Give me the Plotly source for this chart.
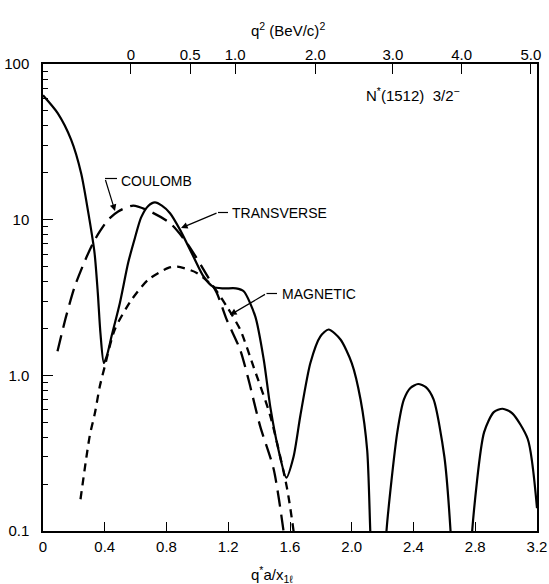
import plotly.graph_objects as go

# ---- data ----
# Transverse (solid) -- three lobes separated by zeros
trans_x1 = [0.0, 0.095, 0.182, 0.247, 0.301, 0.334, 0.355, 0.372, 0.394, 0.415, 0.444, 0.498,
            0.552, 0.595, 0.635, 0.68, 0.725, 0.77, 0.823, 0.888, 0.974, 1.039, 1.103, 1.169,
            1.25, 1.30, 1.375, 1.43, 1.472, 1.526, 1.576, 1.623, 1.667, 1.732, 1.797,
            1.85, 1.927, 2.0, 2.057, 2.1, 2.12, 2.13]
trans_y1 = [63, 48.4, 32.7, 19.9, 10.0, 6.1, 3.39, 1.87, 1.2, 1.35, 1.78, 2.92,
            5.3, 7.6, 10.3, 12.2, 12.9, 12.3, 11.0, 8.6, 5.8, 4.33, 3.7, 3.62,
            3.62, 3.47, 2.39, 1.26, 0.63, 0.33, 0.22, 0.30, 0.55, 1.2, 1.78,
            1.97, 1.7, 1.2, 0.7, 0.33, 0.1, 0.06]
trans_x2 = [2.212, 2.225, 2.295, 2.338, 2.38, 2.43, 2.48, 2.53, 2.6, 2.64, 2.65]
trans_y2 = [0.05, 0.1, 0.43, 0.7, 0.83, 0.88, 0.84, 0.7, 0.3, 0.1, 0.06]
trans_x3 = [2.772, 2.78, 2.857, 2.92, 2.977, 3.04, 3.14, 3.2]
trans_y3 = [0.06, 0.1, 0.43, 0.58, 0.61, 0.57, 0.39, 0.14]

# Coulomb (long dash)
coul_x = [0.094, 0.15, 0.206, 0.27, 0.325, 0.368, 0.422, 0.487, 0.584, 0.693, 0.823, 0.931,
          1.039, 1.126, 1.19, 1.277, 1.33, 1.407, 1.494, 1.558, 1.575]
coul_y = [1.43, 2.4, 3.73, 5.4, 7.1, 8.4, 10.0, 11.3, 12.3, 11.3, 9.5, 7.1,
          4.8, 3.38, 2.28, 1.46, 0.95, 0.47, 0.25, 0.1, 0.07]

# Magnetic (short dash)
mag_x = [0.243, 0.303, 0.336, 0.368, 0.40, 0.465, 0.574, 0.682, 0.812, 0.87, 0.996, 1.104,
         1.19, 1.277, 1.363, 1.472, 1.58, 1.623, 1.64]
mag_y = [0.16, 0.41, 0.57, 0.85, 1.14, 1.97, 3.06, 4.12, 4.9, 5.0, 4.55, 3.7,
         2.77, 1.97, 1.14, 0.55, 0.19, 0.1, 0.07]

# axes
x_ticks = [0, 0.4, 0.8, 1.2, 1.6, 2.0, 2.4, 2.8, 3.2]
x_ticklabels = ["0", "0.4", "0.8", "1.2", "1.6", "2.0", "2.4", "2.8", "3.2"]
y_ticks = [0.1, 1, 10, 100]
y_ticklabels = ["0.1", "1.0", "10", "100"]
y_minor = [m * d for d in (0.1, 1, 10) for m in range(2, 10)]
q2_pos = [0.57, 0.953, 1.245, 1.764, 2.266, 2.712, 3.16]
q2_labels = ["0", "0.5", "1.0", "2.0", "3.0", "4.0", "5.0"]

FONT = "Liberation Sans"
W, H = 549, 584
L, R, T, B = 43, 12, 64, 53


def px(x):
    return (x - L) / (W - L - R)


def py(y):
    return (H - B - y) / (H - T - B)


tx = trans_x1 + [None] + trans_x2 + [None] + trans_x3
ty = trans_y1 + [None] + trans_y2 + [None] + trans_y3

fig = go.Figure()
fig.add_trace(go.Scatter(x=tx, y=ty, mode="lines", name="TRANSVERSE",
                         line=dict(color="black", width=2.2, shape="spline", smoothing=0.7),
                         connectgaps=False))
fig.add_trace(go.Scatter(x=coul_x, y=coul_y, mode="lines", name="COULOMB",
                         line=dict(color="black", width=2.3, shape="spline", smoothing=0.7,
                                   dash="16px,8px")))
fig.add_trace(go.Scatter(x=mag_x, y=mag_y, mode="lines", name="MAGNETIC",
                         line=dict(color="black", width=2.3, shape="spline", smoothing=0.7,
                                   dash="8px,6px")))
# invisible traces to anchor the top axis and the minor-tick axis
fig.add_trace(go.Scatter(x=[0, 3.2], y=[1, 1], xaxis="x2", mode="lines",
                         line=dict(width=0), hoverinfo="skip", showlegend=False))
fig.add_trace(go.Scatter(x=[0, 3.2], y=[1, 1], yaxis="y2", mode="lines",
                         line=dict(width=0), hoverinfo="skip", showlegend=False))

tick_common = dict(ticks="inside", tickwidth=1.3, tickcolor="black",
                   showgrid=False, zeroline=False, automargin=False,
                   tickfont=dict(size=15))

fig.update_layout(
    width=W, height=H,
    margin=dict(l=L, r=R, t=T, b=B),
    paper_bgcolor="white", plot_bgcolor="white",
    showlegend=False,
    font=dict(family=FONT, size=15, color="black"),
    xaxis=dict(range=[0, 3.2], tickvals=x_ticks, ticktext=x_ticklabels, ticklen=9,
               showline=True, linecolor="black", linewidth=1.5, mirror=False,
               ticklabelstandoff=1, **tick_common),
    xaxis2=dict(range=[0, 3.2], overlaying="x", side="top", anchor="y",
                tickvals=q2_pos, ticktext=q2_labels, ticklen=10,
                showline=True, linecolor="black", linewidth=1.5,
                ticklabelstandoff=-4, **tick_common),
    yaxis=dict(type="log", range=[-1, 2], tickvals=y_ticks, ticktext=y_ticklabels,
               ticklen=10, showline=True, linecolor="black", linewidth=1.5, mirror=True,
               ticklabelstandoff=9, **tick_common),
    yaxis2=dict(type="log", range=[-1, 2], overlaying="y", side="left", anchor="x",
                tickvals=y_minor, showticklabels=False, ticks="inside",
                ticklen=5, tickwidth=1.1, tickcolor="black", showline=False,
                showgrid=False, zeroline=False, automargin=False),
)

ann = []
# axis titles
ann.append(dict(x=px(288), y=py(30), xref="paper", yref="paper", yanchor="middle",
                text="q<sup>2</sup> (BeV/c)<sup>2</sup>", showarrow=False,
                font=dict(size=15)))
ann.append(dict(x=px(272), y=py(574), xref="paper", yref="paper", yanchor="middle",
                text="q<sup>*</sup>a/x<sub>1ℓ</sub>", showarrow=False,
                font=dict(size=15)))
# state label
ann.append(dict(x=px(364), y=py(95), xref="paper", yref="paper", xanchor="left",
                yanchor="middle",
                text="N<sup>*</sup>(1512)  3/2<sup>−</sup>", showarrow=False,
                font=dict(size=15)))
# curve labels
ann.append(dict(x=px(119), y=py(181), xref="paper", yref="paper", xanchor="left",
                yanchor="middle", text="COULOMB", showarrow=False, font=dict(size=14)))
ann.append(dict(x=px(230), y=py(213), xref="paper", yref="paper", xanchor="left",
                yanchor="middle", text="TRANSVERSE", showarrow=False, font=dict(size=14)))
ann.append(dict(x=px(280), y=py(294), xref="paper", yref="paper", xanchor="left",
                yanchor="middle", text="MAGNETIC", showarrow=False, font=dict(size=14)))

# leader arrows (head at curve, tail at bend), in pixel positions
leaders = [((105, 178.5), (115, 211), (117, 178.5)),
           ((218, 212.5), (181, 228), (228, 212.5)),
           ((266.5, 293.5), (230, 315), (277, 293.5))]
shapes = []
for (bend, head, start) in leaders:
    ann.append(dict(x=px(head[0]), y=py(head[1]), xref="paper", yref="paper",
                    ax=bend[0] - head[0], ay=bend[1] - head[1],
                    text="", showarrow=True, arrowhead=2, arrowsize=1.1, arrowwidth=1.2,
                    arrowcolor="black"))
    shapes.append(dict(type="line", xref="paper", yref="paper",
                       x0=px(start[0]), y0=py(start[1]), x1=px(bend[0]), y1=py(bend[1]),
                       line=dict(color="black", width=1.2)))

fig.update_layout(annotations=ann, shapes=shapes)
fig.write_html("out.html", config={"displayModeBar": False},
               post_script="document.body.style.margin='0px';"
                           "document.body.style.overflow='hidden';")
